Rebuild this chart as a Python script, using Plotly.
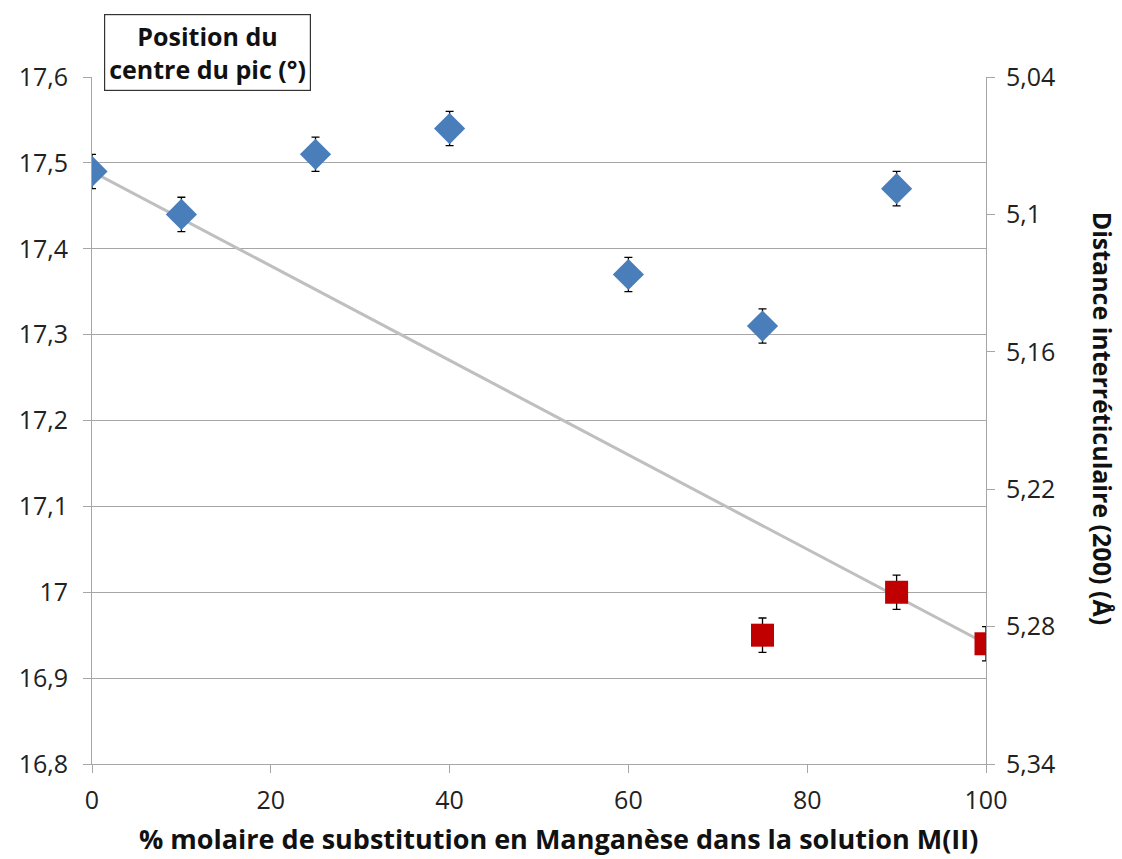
import plotly.graph_objects as go

# Data
blue_x = [0, 10, 25, 40, 60, 75, 90]
blue_y = [17.49, 17.44, 17.51, 17.54, 17.37, 17.31, 17.47]
blue_err = [0.02, 0.02, 0.02, 0.02, 0.02, 0.02, 0.02]

red_x = [75, 90, 100]
red_y = [16.95, 17.00, 16.94]
red_err = [0.02, 0.02, 0.02]

trend_x = [0, 100]
trend_y = [17.49, 16.94]

left_ticks = [16.8, 16.9, 17.0, 17.1, 17.2, 17.3, 17.4, 17.5, 17.6]
left_labels = ["16,8", "16,9", "17", "17,1", "17,2", "17,3", "17,4", "17,5", "17,6"]
right_ticks = [5.04, 5.10, 5.16, 5.22, 5.28, 5.34]
right_labels = ["5,04", "5,1", "5,16", "5,22", "5,28", "5,34"]
x_ticks = [0, 20, 40, 60, 80, 100]

FONT = "Open Sans"
AXC = "#a6a6a6"
TICKSZ = 25

fig = go.Figure()
fig.add_trace(go.Scatter(x=trend_x, y=trend_y, mode="lines",
                         line=dict(color="#bfbfbf", width=3), showlegend=False, hoverinfo="skip"))
fig.add_trace(go.Scatter(x=blue_x, y=blue_y, mode="markers",
                         marker=dict(symbol="diamond", size=24, color="#4a7ebb"),
                         error_y=dict(type="data", array=blue_err, color="black", thickness=1.3, width=4),
                         showlegend=False))
fig.add_trace(go.Scatter(x=red_x, y=red_y, mode="markers",
                         marker=dict(symbol="square", size=23, color="#c00000"),
                         error_y=dict(type="data", array=red_err, color="black", thickness=1.3, width=4),
                         showlegend=False))
# invisible trace for right axis
fig.add_trace(go.Scatter(x=[0], y=[5.04], yaxis="y2", mode="markers",
                         marker=dict(opacity=0), showlegend=False, hoverinfo="skip"))

fig.update_layout(
    width=1122, height=859,
    margin=dict(l=92, r=136, t=77, b=95, autoexpand=False),
    paper_bgcolor="white", plot_bgcolor="white",
    font=dict(family=FONT, size=TICKSZ, color="#222"),
    xaxis=dict(range=[0, 100], tickvals=x_ticks, ticks="outside", ticklen=8, tickcolor=AXC,
               showline=True, linecolor=AXC, linewidth=1, showgrid=False, zeroline=False,
               tickfont=dict(size=TICKSZ), ticklabelstandoff=6, automargin=False),
    yaxis=dict(range=[16.8, 17.6], tickvals=left_ticks, ticktext=left_labels, ticks="outside",
               ticklen=8, tickcolor=AXC, showline=True, linecolor=AXC, linewidth=1,
               showgrid=True, gridcolor=AXC, gridwidth=1, zeroline=False,
               tickfont=dict(size=TICKSZ), ticklabelstandoff=10, automargin=False),
    yaxis2=dict(range=[5.34, 5.04], overlaying="y", side="right", tickvals=right_ticks,
                ticktext=right_labels, ticks="outside", ticklen=8, tickcolor=AXC,
                showline=True, linecolor=AXC, linewidth=1, showgrid=False, zeroline=False,
                tickfont=dict(size=TICKSZ), ticklabelstandoff=6, automargin=False),
    annotations=[
        dict(text="<b>Position du<br>centre du pic (°)</b>", xref="paper", yref="paper",
             x=0.129, y=1.036, showarrow=False, font=dict(size=25, color="#111"),
             bordercolor="#333", borderwidth=1.2, borderpad=4, bgcolor="white",
             xanchor="center", yanchor="middle"),
        dict(text="<b>Distance interréticulaire (200) (Å)</b>", xref="paper", yref="paper",
             x=1.131, y=0.504, showarrow=False, textangle=90, font=dict(size=25, color="#111"),
             xanchor="center", yanchor="middle"),
        dict(text="<b>% molaire de substitution en Manganèse dans la solution M(II)</b>",
             xref="paper", yref="paper", x=0.522, y=-0.108, showarrow=False,
             font=dict(size=27, color="#111"), xanchor="center", yanchor="middle"),
    ],
)

fig.write_html("out.html", config={"displayModeBar": False},
               post_script="document.body.style.margin='0';")
